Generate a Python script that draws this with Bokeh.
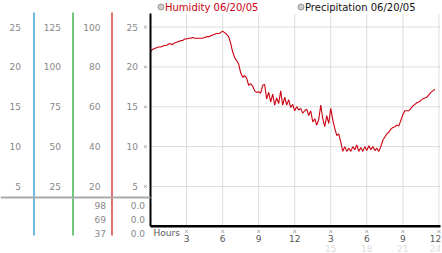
from bokeh.plotting import figure
from bokeh.models import Range1d
from bokeh.embed import file_html
from bokeh.resources import INLINE
from bokeh.core.properties import value

# ---------------- data ----------------
humidity = [
    21.9, 22.2, 22.3, 22.4, 22.5, 22.5, 22.6, 22.7, 22.7, 22.9, 22.9, 22.8,
    23.0, 23.1, 23.2, 23.3, 23.3, 23.5, 23.5, 23.6, 23.6, 23.7, 23.6, 23.6,
    23.6, 23.6, 23.6, 23.7, 23.8, 23.8, 23.9, 24.0, 24.1, 24.2, 24.2, 24.3,
    24.5, 24.3, 24.1, 23.8, 23.0, 21.9, 21.2, 20.8, 20.4, 19.3, 18.7, 18.9,
    18.6, 17.7, 17.9, 17.6, 17.0, 16.8, 16.9, 16.7, 17.7, 17.8, 16.0, 16.8,
    15.6, 16.6, 15.2, 16.1, 15.4, 17.0, 15.2, 16.2, 15.2, 15.9, 14.9, 15.3,
    14.5, 15.0, 14.6, 14.8, 14.2, 14.5, 14.7, 13.9, 14.5, 13.1, 13.5, 12.7,
    13.4, 15.2, 13.5, 12.5, 13.9, 12.9, 14.8, 13.4, 12.3, 11.4, 11.6, 10.6,
    9.4, 10.0, 9.4, 9.8, 9.4, 10.0, 9.6, 10.2, 9.4, 9.9, 9.4, 10.0,
    9.5, 10.1, 9.6, 10.0, 9.5, 9.8, 9.4, 10.0, 10.8, 11.2, 11.6, 11.8,
    12.2, 12.4, 12.5, 12.7, 12.6, 13.3, 14.0, 14.5, 14.5, 14.5, 14.8, 15.1,
    15.3, 15.5, 15.6, 15.8, 16.0, 16.1, 16.2, 16.5, 16.8, 17.0, 17.2,
]
sample_minutes = [10 * i for i in range(len(humidity))]
hours = [m / 60 for m in sample_minutes]

grid_values = [5, 10, 15, 20, 25]
scale1_ticks = [25, 20, 15, 10, 5]
scale2_ticks = [125, 100, 75, 50, 25]
scale3_ticks = [100, 80, 60, 40, 20]
scale4_ticks = [25, 20, 15, 10, 5]
reading_col3 = ["98", "69", "37"]
reading_col4 = ["0.0", "0.0", "0.0"]

hour_ticks = [3, 6, 9, 12, 15, 18, 21, 24]
hour_labels = ["3", "6", "9", "12", "3", "6", "9", "12"]
hour_ticks2 = [15, 18, 21, 24]
hour_labels2 = ["15", "18", "21", "24"]

legend_labels = ["Humidity 06/20/05", "Precipitation 06/20/05"]

# ---------------- layout ----------------
W, H = 442, 253
X0, X24 = 150.0, 438.4       # pixel x of hour 0 and hour 24
Y0, Y25 = 225.8, 26.6        # pixel y (from top) of value 0 and value 25
pxh = (X24 - X0) / 24
pyu = (Y0 - Y25) / 25
ys, ye = -(H - Y0) / pyu, Y0 / pyu

FONT = value("DejaVu Sans")

p = figure(width=W, height=H, output_backend="svg", toolbar_location=None,
           x_range=Range1d(-X0 / pxh, 24 + (W - X24) / pxh),
           y_range=Range1d(ys, ye),
           min_border=0, x_axis_location=None, y_axis_location=None,
           outline_line_color=None, background_fill_color="white",
           border_fill_color="white")
p.grid.visible = False
p.extra_x_ranges = {"px": Range1d(0, W)}
p.extra_y_ranges = {"py": Range1d(H, 0),
                    "s2": Range1d(ys * 5, ye * 5),
                    "s3": Range1d(ys * 4, ye * 4)}

top_val = (Y0 - 13) / pyu
x_end = (440 - X0) / pxh

# grid lines
p.segment(x0=[0] * len(grid_values), x1=[x_end] * len(grid_values),
          y0=grid_values, y1=grid_values, line_color="#dddddd", line_width=1)
p.segment(x0=hour_ticks, x1=hour_ticks, y0=[0] * len(hour_ticks),
          y1=[top_val] * len(hour_ticks), line_color="#dddddd", line_width=1)

# humidity line
p.line(hours, humidity, line_color="#cc0011", line_width=1.1)

# main axes
p.segment(x0=[0], x1=[0], y0=[0], y1=[top_val], line_color="black", line_width=2)
p.segment(x0=[0], x1=[x_end], y0=[0], y1=[0], line_color="black", line_width=2.5)

# left-side tick marks
p.scatter(x=[145] * len(grid_values), y=grid_values, x_range_name="px",
          marker="x", size=3.5, line_color="#999999", line_width=1)
# bottom tick marks
p.scatter(x=hour_ticks, y=[231] * len(hour_ticks), y_range_name="py",
          marker="x", size=3.5, line_color="#999999", line_width=1)

# left panel: coloured separators and gray line
p.segment(x0=[33.5, 72.5, 111.5], x1=[33.5, 72.5, 111.5], y0=[12] * 3, y1=[235] * 3,
          x_range_name="px", y_range_name="py",
          line_color=["#2299cc", "#22aa33", "#cc2222"], line_width=1.3)
p.segment(x0=[0], x1=[150], y0=[197], y1=[197], x_range_name="px", y_range_name="py",
          line_color="#aaaaaa", line_width=2)

lab = dict(text_font=FONT, text_font_size="9px", text_color="#888888",
           text_align="right", text_baseline="middle")
p.text(x=[20.5] * 5, y=scale1_ticks, text=[str(v) for v in scale1_ticks],
       x_range_name="px", **lab)
p.text(x=[60.5] * 5, y=scale2_ticks, text=[str(v) for v in scale2_ticks],
       x_range_name="px", y_range_name="s2", **lab)
p.text(x=[100] * 5, y=scale3_ticks, text=[str(v) for v in scale3_ticks],
       x_range_name="px", y_range_name="s3", **lab)
p.text(x=[137.5] * 5, y=scale4_ticks, text=[str(v) for v in scale4_ticks],
       x_range_name="px", **lab)
p.text(x=[105.5] * 3, y=[204.5, 218.5, 232.5], text=reading_col3,
       x_range_name="px", y_range_name="py", **lab)
p.text(x=[144.5] * 3, y=[204.5, 218.5, 232.5], text=reading_col4,
       x_range_name="px", y_range_name="py", **lab)

# bottom labels
p.text(x=[153], y=[232], text=["Hours"], x_range_name="px", y_range_name="py",
       text_font=FONT, text_font_size="9px", text_color="#555555",
       text_align="left", text_baseline="middle")
p.text(x=hour_ticks, y=[238] * len(hour_ticks), text=hour_labels, y_range_name="py",
       x_offset=[0] * (len(hour_ticks) - 1) + [-3.5],
       text_font=FONT, text_font_size="9px", text_color="#555555",
       text_align="center", text_baseline="middle")
p.text(x=hour_ticks2, y=[247.5] * len(hour_ticks2), text=hour_labels2, y_range_name="py",
       x_offset=[0] * (len(hour_ticks2) - 1) + [-3.5],
       text_font=FONT, text_font_size="9px", text_color="#dddddd",
       text_align="center", text_baseline="middle")

# legend
p.scatter(x=[160.5, 300.5], y=[6.5, 6.5], x_range_name="px", y_range_name="py",
          marker="circle", size=6, fill_color="#cccccc", line_color="#999999")
p.text(x=[164.5, 304.5], y=[6.5, 6.5], text=legend_labels,
       x_range_name="px", y_range_name="py",
       text_font=FONT, text_font_size="10px", text_color=["#cc0011", "#111111"],
       text_align="left", text_baseline="middle")

open("out.html", "w").write(file_html(p, INLINE))
